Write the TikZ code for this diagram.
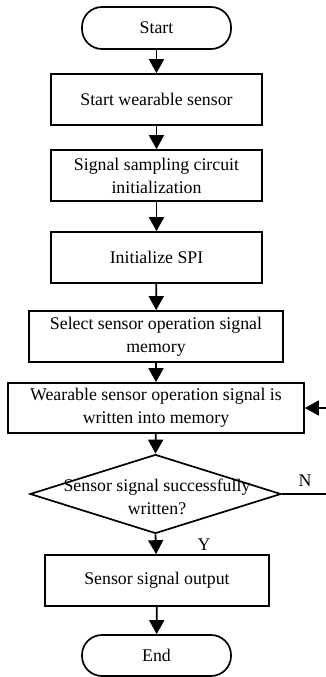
\documentclass[tikz,border=0pt]{standalone}
\usepackage{fontspec}
\setmainfont{Liberation Serif}
\usetikzlibrary{arrows.meta,shapes.geometric}
\begin{document}
\begin{tikzpicture}[x=1pt,y=-1pt,
  every node/.style={font=\fontsize{17.8}{23}\selectfont, inner sep=0pt},
  term/.style={draw, line width=1.7pt, rounded corners=20pt, minimum width=149pt, minimum height=42pt},
  proc/.style={draw, line width=1.7pt, minimum height=51pt, align=center},
  dia/.style={draw, line width=1.7pt, diamond, minimum width=251pt, minimum height=79pt, aspect=3.2},
  flow/.style={line width=1.8pt, -{Triangle[width=15pt,length=14pt]}},
  plain/.style={line width=1.8pt}]
\useasboundingbox (0,0) rectangle (326,677);
\node[term] (st) at (156.5,28) {Start};
\node[proc, minimum width=211pt] (b1) at (156.5,99.5) {Start wearable sensor};
\node[proc, minimum width=211pt] (b2) at (156.5,175.5) {Signal sampling circuit\\initialization};
\node[proc, minimum width=211pt] (b3) at (156.5,257.5) {Initialize SPI};
\node[proc, minimum width=254pt] (b4) at (156,336.5) {Select sensor operation signal\\memory};
\node[proc, minimum width=296pt, minimum height=50pt] (b5) at (156,408) {Wearable sensor operation signal is\\written into memory};
\node[dia] (d) at (155.5,494) {};
\node[align=center] (dt) at (157,497) {Sensor signal successfully\\written?};
\node[proc, minimum width=224pt] (b6) at (157,580.5) {Sensor signal output};
\node[term, minimum height=41pt] (en) at (156.5,655.5) {End};
\node (ny) at (305,481) {N};
\node (yy) at (204,545) {Y};
\coordinate (nr) at (326,494);
\coordinate (ar) at (326,408);
\draw[flow] (st) -- (b1);
\draw[flow] (b1) -- (b2);
\draw[flow] (b2) -- (b3);
\draw[flow] (b3) -- (b4);
\draw[flow] (b4) -- (b5);
\draw[flow] (b5) -- (d.north);
\draw[flow] (d.south) -- (b6);
\draw[flow] (b6) -- (en);
\draw[plain] (d.east) -- (nr);
\draw[flow] (ar) -- (b5.east);
\end{tikzpicture}
\end{document}
